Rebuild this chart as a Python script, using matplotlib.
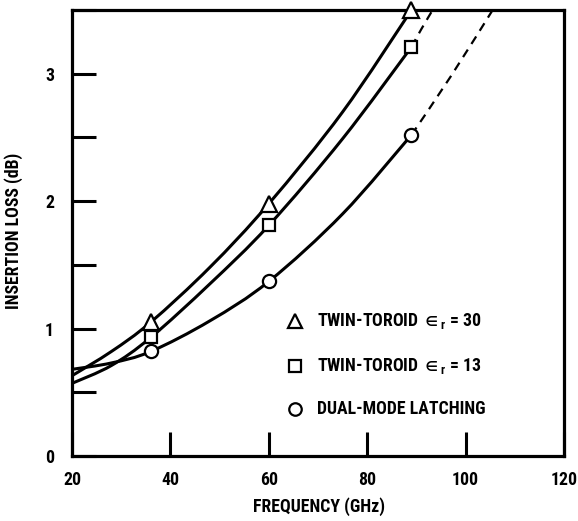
import numpy as np
import matplotlib
matplotlib.use("Agg")
from matplotlib import pyplot as plt
from matplotlib.path import Path
from matplotlib.patches import PathPatch
from matplotlib.ticker import MultipleLocator, FuncFormatter

# ---------------------------------------------------------------------------
# DATA
# ---------------------------------------------------------------------------

# measured points (markers)
freq_pts = [36, 60, 89]
tri_pts = [1.05, 1.98, 3.50]
sq_pts = [0.93, 1.81, 3.21]
circ_pts = [0.82, 1.37, 2.52]

# solid fitted curves, knots
curve_x = [20, 28, 36, 48, 60, 75, 89]
tri_curve = [0.63, 0.82, 1.05, 1.48, 1.98, 2.70, 3.50]
sq_curve = [0.57, 0.71, 0.93, 1.35, 1.81, 2.49, 3.21]
circ_curve = [0.68, 0.73, 0.82, 1.06, 1.37, 1.90, 2.52]

# dashed extrapolations
sq_dash_x = [89, 91, 93.3]
sq_dash_y = [3.21, 3.35, 3.50]
circ_dash_x = [89, 97, 105.5]
circ_dash_y = [2.52, 2.98, 3.50]

x_ticks = [20, 40, 60, 80, 100, 120]

legend_labels = [
    r"TWIN-TOROID $\in_{\mathrm{r}}$ = 30",
    r"TWIN-TOROID $\in_{\mathrm{r}}$ = 13",
    "DUAL-MODE LATCHING",
]

# ---------------------------------------------------------------------------
# STYLE
# ---------------------------------------------------------------------------

FONT = ["Roboto Condensed", "DejaVu Sans"]
plt.rcParams["font.family"] = FONT
plt.rcParams["font.weight"] = "bold"
plt.rcParams["mathtext.fontset"] = "custom"
plt.rcParams["mathtext.rm"] = "Roboto Condensed:bold"
plt.rcParams["mathtext.it"] = "Roboto Condensed:bold"
plt.rcParams["mathtext.bf"] = "Roboto Condensed:bold"
plt.rcParams["mathtext.fallback"] = "stixsans"

LW = 2.2
FS = 12.8


def smooth_path(xs, ys):
    # Catmull-Rom knots -> cubic bezier path
    pts = np.column_stack([xs, ys]).astype(float)
    n = len(pts)
    verts = [pts[0]]
    codes = [Path.MOVETO]
    for i in range(n - 1):
        p0 = pts[i - 1] if i > 0 else pts[i]
        p1 = pts[i]
        p2 = pts[i + 1]
        p3 = pts[i + 2] if i + 2 < n else pts[i + 1]
        c1 = p1 + (p2 - p0) / 6.0
        c2 = p2 - (p3 - p1) / 6.0
        verts += [c1, c2, p2]
        codes += [Path.CURVE4] * 3
    return Path(verts, codes)


fig = plt.figure(figsize=(5.78, 5.21), dpi=100)
ax = fig.add_axes([0.1246, 0.1248, 0.8512, 0.856])

# -- curves ------------------------------------------------------------------
for cx, cy in [(curve_x, tri_curve), (curve_x, sq_curve), (curve_x, circ_curve)]:
    ax.add_patch(PathPatch(smooth_path(cx, cy), fill=False, lw=LW,
                           edgecolor="black", capstyle="butt"))

for dx, dy in [(sq_dash_x, sq_dash_y), (circ_dash_x, circ_dash_y)]:
    ax.add_patch(PathPatch(smooth_path(dx, dy), fill=False, lw=1.6,
                           edgecolor="black", linestyle=(0, (4, 3))))

# -- markers -----------------------------------------------------------------
mk = dict(ls="none", mfc="white", mec="black", mew=1.6, clip_on=False, zorder=5)
ax.plot(freq_pts, tri_pts, marker="^", ms=11, **mk)
ax.plot(freq_pts, sq_pts, marker="s", ms=9, **mk)
ax.plot(freq_pts, circ_pts, marker="o", ms=9.5, **mk)

# -- legend (drawn as plain text inside the axes) -----------------------------
leg_y = [1.06, 0.71, 0.37]
leg_marks = [("^", 10), ("s", 9), ("o", 9)]
for (m, s), ly, lab in zip(leg_marks, leg_y, legend_labels):
    ax.plot([65.3], [ly], marker=m, ms=s, **mk)
    ax.text(69.8, ly, lab, fontsize=FS, fontweight="bold",
            va="center", ha="left")

# -- axes --------------------------------------------------------------------
ax.set_xlim(20, 120)
ax.set_ylim(0, 3.5)

ax.set_xticks(x_ticks)
ax.yaxis.set_major_locator(MultipleLocator(0.5))
ax.yaxis.set_major_formatter(
    FuncFormatter(lambda v, p: f"{int(round(v))}" if abs(v - round(v)) < 1e-6 and v < 3.4 else ""))

ax.tick_params(axis="both", direction="in", length=17, width=2.2,
               labelsize=FS, color="black")
ax.tick_params(axis="x", pad=11)
ax.tick_params(axis="y", pad=13)
for lbl in ax.get_xticklabels() + ax.get_yticklabels():
    lbl.set_fontweight("bold")

for sp in ax.spines.values():
    sp.set_linewidth(2.3)

fig.text(0.552, 0.027, "FREQUENCY (GHz)", ha="center", va="center",
         fontsize=FS, fontweight="bold")
fig.text(0.024, 0.556, "INSERTION LOSS (dB)", ha="center", va="center",
         rotation=90, fontsize=FS, fontweight="bold")

fig.savefig("out.png", dpi=100)
